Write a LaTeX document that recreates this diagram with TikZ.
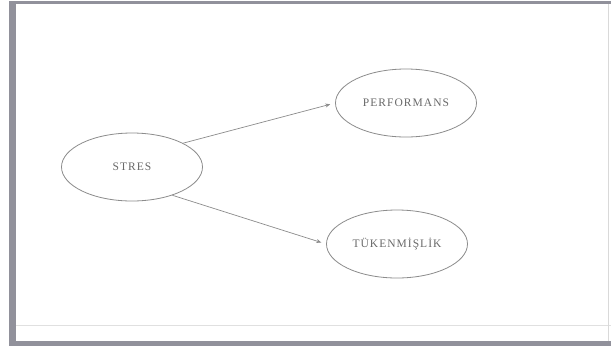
\documentclass[tikz,border=0pt]{standalone}
\usepackage{fontspec}
\setmainfont{Liberation Serif}
\usetikzlibrary{arrows.meta,shapes.geometric}
\definecolor{framecol}{RGB}{145,145,155}
\definecolor{linecol}{RGB}{140,140,140}
\definecolor{txtcol}{RGB}{105,105,105}
\tikzset{
  varnode/.style={draw=linecol, line width=0.8pt, ellipse, minimum width=141pt, minimum height=68pt, inner sep=0pt, text=txtcol, font=\addfontfeatures{LetterSpace=9}\fontsize{11.5}{13}\selectfont},
  link/.style={draw=linecol, line width=0.7pt, -{Stealth[length=5pt,width=4pt]}, shorten >=5pt}
}
\begin{document}
\begin{tikzpicture}[x=1pt,y=-1pt]
\useasboundingbox (0,0) rectangle (611,349);
\fill[white] (0,0) rectangle (611,349);
% frame
\fill[framecol] (9,1) rectangle (611,4);
\fill[framecol] (9,1) rectangle (16,346);
\fill[framecol] (9,341) rectangle (611,346);
\draw[black!12, line width=0.6pt] (16,325) -- (611,325);
\draw[black!15, line width=0.6pt] (608,4) -- (608,341);
% nodes
\node[varnode] (s) at (132,167) {STRES};
\node[varnode] (p) at (406,103) {PERFORMANS};
\node[varnode] (t) at (397,244) {TÜKENMİŞLİK};
% connectors
\draw[link] (s.25) -- (p.west);
\draw[link] (s.-35) -- (t.west);
\end{tikzpicture}
\end{document}
